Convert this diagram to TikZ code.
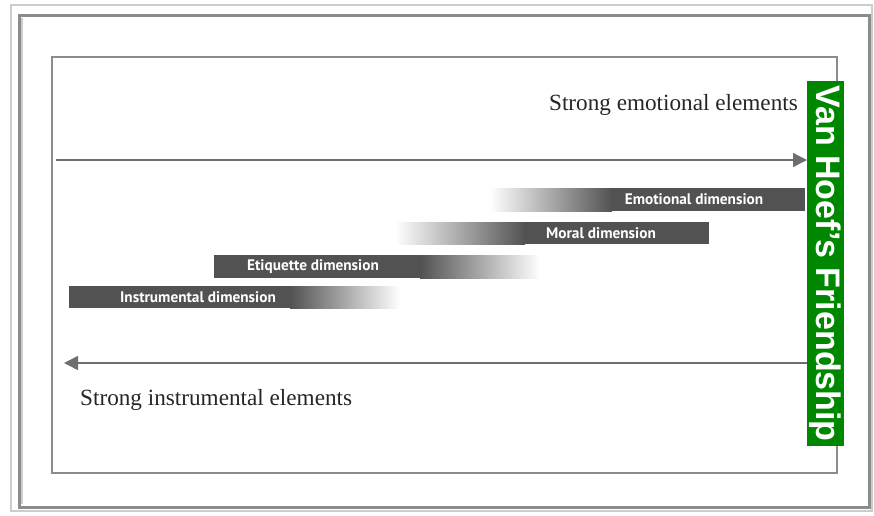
\documentclass[tikz,border=0pt]{standalone}
\usepackage{fontspec}
\setmainfont{Liberation Serif}
\newfontfamily\barfont{PT Sans}
\newfontfamily\vhfont{Liberation Sans}
\usetikzlibrary{arrows.meta}
\definecolor{barcol}{RGB}{82,82,82}
\definecolor{linecol}{RGB}{110,110,110}
\definecolor{framecol}{RGB}{140,140,140}
\definecolor{vgreen}{RGB}{0,135,0}
\tikzset{
  arr/.style={draw=linecol, line width=1.4pt, -{Triangle[length=14pt,width=14pt]}},
  barlabel/.style={text=white, font=\barfont\bfseries\fontsize{15.3}{15}\selectfont, inner sep=0pt},
  bigtext/.style={font=\fontsize{23.2}{25}\selectfont, text=black!85, inner sep=0pt},
}
\begin{document}
\begin{tikzpicture}[x=1pt,y=-1pt]
\useasboundingbox (0,0) rectangle (874,515);
% outer frame
\draw[color=black!20, line width=2.5pt] (11,5) rectangle (872,511);
\draw[color=black!45, line width=3pt] (19,15) rectangle (869,507);
\draw[color=black!20, line width=1.2pt] (22,18) -- (22,504);
% inner frame
\draw[color=framecol, line width=1.2pt] (52,57) rectangle (837,473);
% bars
% Emotional
\shade[left color=white, right color=barcol] (490,188) rectangle (612,211);
\fill[barcol] (611.5,188) rectangle (805,211);
% Moral
\shade[left color=white, right color=barcol] (395,222) rectangle (525,244);
\fill[barcol] (524.5,222) rectangle (709,244);
% Etiquette
\fill[barcol] (214,255) rectangle (420.5,278);
\shade[left color=barcol, right color=white] (420,255) rectangle (540,278);
% Instrumental
\fill[barcol] (69,286) rectangle (290.5,308);
\shade[left color=barcol, right color=white] (290,286) rectangle (400,308);
\node[barlabel] (emo) at (694,199.5) {Emotional dimension};
\node[barlabel] (mor) at (601,233) {Moral dimension};
\node[barlabel] (eti) at (313,266.5) {Etiquette dimension};
\node[barlabel] (ins) at (198,297) {Instrumental dimension};
% green label
\node[rotate=-90, fill=vgreen, text=white, inner sep=0pt,
      minimum width=365pt, minimum height=37pt,
      font=\vhfont\bfseries\fontsize{34}{34}\selectfont] (vh) at (825.5,263.5) {Van Hoef’s Friendship};
% arrows
\coordinate (us) at (56,160);
\coordinate (ue) at (807,160);
\coordinate (ls) at (807,363);
\coordinate (le) at (64,363);
\draw[arr] (us) -- (ue);
\draw[arr] (ls) -- (le);
% texts
\node[bigtext, anchor=base east] (se) at (798,110) {Strong emotional elements};
\node[bigtext, anchor=base west] (si) at (80,405) {Strong instrumental elements};
\end{tikzpicture}
\end{document}
